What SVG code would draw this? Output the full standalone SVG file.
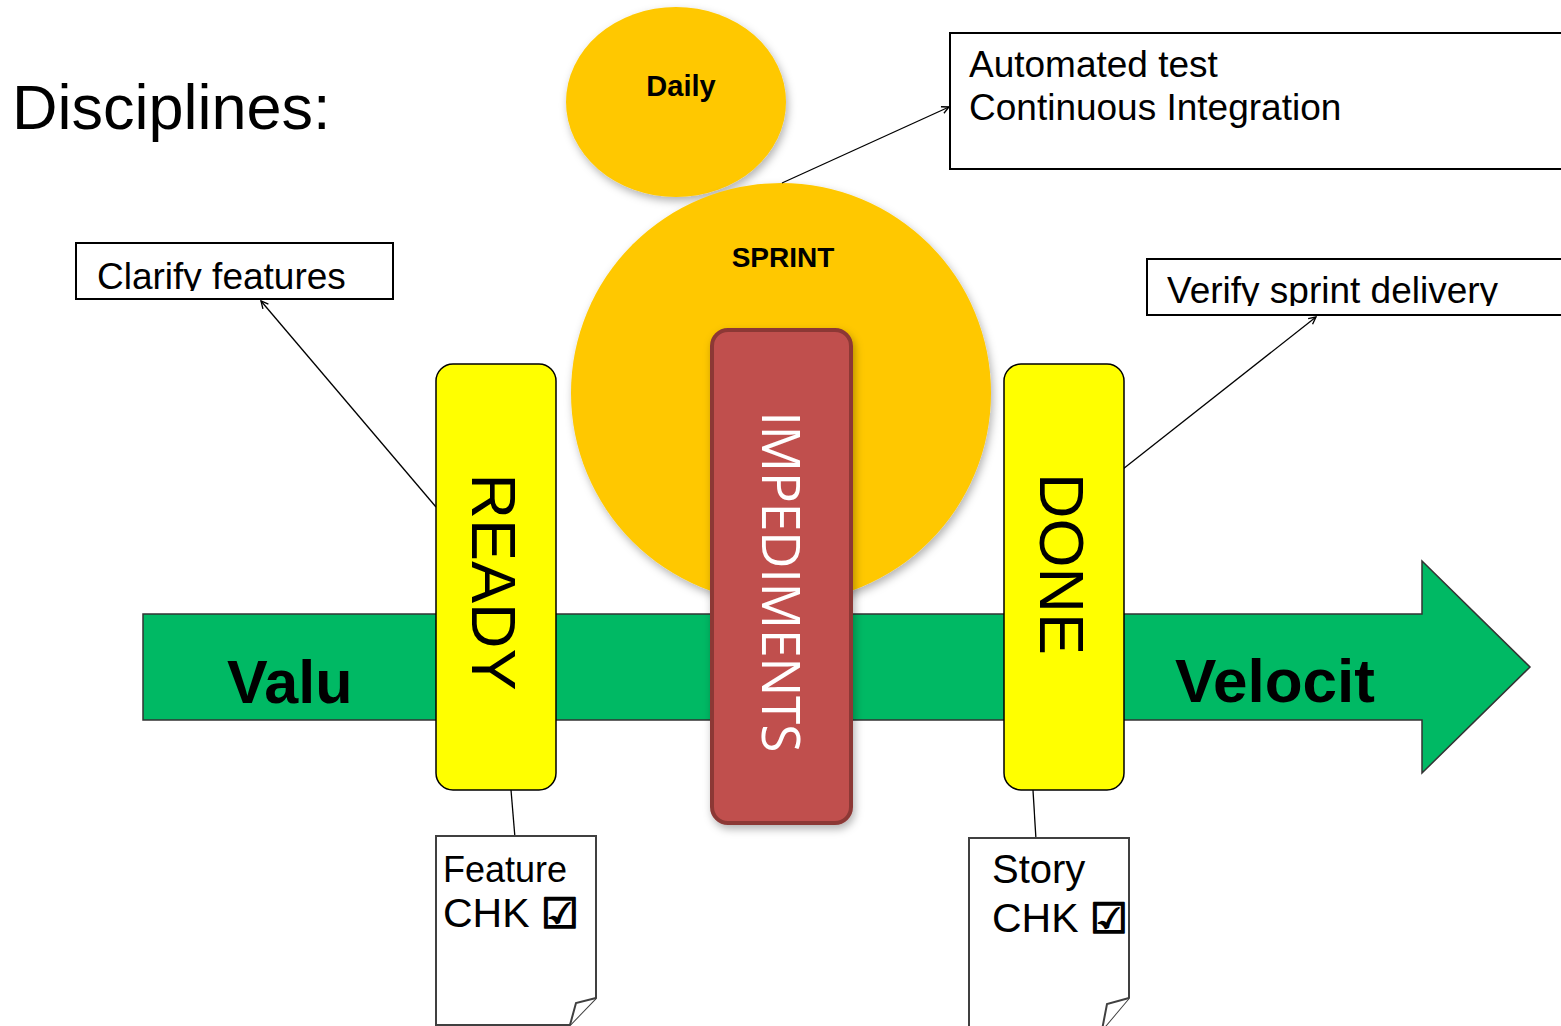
<svg xmlns="http://www.w3.org/2000/svg" width="1561" height="1026" viewBox="0 0 1561 1026">
<style>
  .lbl{font-family:"Liberation Sans",Arial,sans-serif;fill:#000}
  .bold{font-weight:bold}
  .callout{fill:#fff;stroke:#000;stroke-width:2}
  .gate{fill:#FFFF00;stroke:#000;stroke-width:1.5}
  .conn{stroke:#000;stroke-width:1.3;fill:none}
  .doc{fill:#fff;stroke:#404040;stroke-width:2;stroke-linejoin:miter}
  .orange{fill:#FFC800}
  .chk{font-family:"DejaVu Sans",sans-serif;font-weight:bold;stroke:#000;stroke-width:1.6}
</style>
<defs>
  <filter id="sh" x="-20%" y="-20%" width="140%" height="140%">
    <feDropShadow dx="2" dy="4" stdDeviation="4" flood-color="#000" flood-opacity="0.3"/>
  </filter>
  <marker id="ah" viewBox="0 0 10 10" refX="9" refY="5" markerWidth="9" markerHeight="9" markerUnits="userSpaceOnUse" orient="auto">
    <path d="M1,1 L9,5 L1,9" fill="none" stroke="#000" stroke-width="1.5"/>
  </marker>
  <clipPath id="clipClarify"><rect x="76" y="243" width="317" height="48"/></clipPath>
  <clipPath id="clipVerify"><rect x="1147" y="259" width="414" height="47"/></clipPath>
</defs>
<rect x="0" y="0" width="1561" height="1026" fill="#fff"/>

<g id="title">
  <text class="lbl" x="12" y="129" font-size="63">Disciplines:</text>
</g>

<g id="flow-arrow">
  <polygon points="143,614 1422,614 1422,561 1530,667 1422,773 1422,720 143,720" fill="#00B964" stroke="#333" stroke-width="1.5"/>
  <text class="lbl bold" x="227" y="703" font-size="61">Valu</text>
  <text class="lbl bold" x="1175" y="702" font-size="62">Velocit</text>
</g>

<g id="daily">
  <ellipse class="orange" cx="676" cy="102" rx="110" ry="95" filter="url(#sh)"/>
  <text class="lbl bold" x="681" y="96" font-size="29" text-anchor="middle">Daily</text>
</g>

<g id="sprint">
  <circle class="orange" cx="781" cy="393" r="210" filter="url(#sh)"/>
  <text class="lbl bold" x="783" y="267" font-size="28" text-anchor="middle">SPRINT</text>
</g>

<g id="connectors">
  <line class="conn" x1="782" y1="183" x2="949" y2="107" marker-end="url(#ah)"/>
  <line class="conn" x1="436" y1="507" x2="261" y2="301" marker-end="url(#ah)"/>
  <line class="conn" x1="1123" y1="469" x2="1316" y2="317" marker-end="url(#ah)"/>
  <line class="conn" x1="511" y1="790" x2="515" y2="838"/>
  <line class="conn" x1="1033" y1="790" x2="1036" y2="840"/>
</g>

<g id="ready">
  <rect class="gate" x="436" y="364" width="120" height="426" rx="17"/>
  <text class="lbl" transform="translate(472,582) rotate(90)" font-size="63" text-anchor="middle">READY</text>
</g>

<g id="impediments">
  <rect x="712" y="330" width="139" height="493" rx="16" fill="#C0504D" stroke="#8C3836" stroke-width="4" filter="url(#sh)"/>
  <text transform="translate(762,582) rotate(90)" font-family="'Open Sans','Noto Sans',sans-serif" font-size="53" fill="#fff" text-anchor="middle" textLength="341" lengthAdjust="spacingAndGlyphs">IMPEDIMENTS</text>
</g>

<g id="done">
  <rect class="gate" x="1004" y="364" width="120" height="426" rx="17"/>
  <text class="lbl" transform="translate(1040,564) rotate(90)" font-size="63" text-anchor="middle">DONE</text>
</g>

<g id="automated-test">
  <rect class="callout" x="950" y="33" width="620" height="136"/>
  <text class="lbl" x="969" y="77" font-size="37">Automated test</text>
  <text class="lbl" x="969" y="120" font-size="37">Continuous Integration</text>
</g>

<g id="clarify-features">
  <rect class="callout" x="76" y="243" width="317" height="56"/>
  <text class="lbl" x="97" y="289" font-size="37" clip-path="url(#clipClarify)">Clarify features</text>
</g>

<g id="verify-sprint">
  <rect class="callout" x="1147" y="259" width="420" height="56"/>
  <text class="lbl" x="1167" y="303" font-size="37" clip-path="url(#clipVerify)">Verify sprint delivery</text>
</g>

<g id="feature-chk">
  <path class="doc" d="M436,836 L596,836 L596,998 L570,1025 L436,1025 Z"/>
  <path class="doc" d="M596,998 L576,1003 L570,1025" stroke-width="1.5"/>
  <text class="lbl" x="443" y="882" font-size="36">Feature</text>
  <text class="lbl" x="443" y="927" font-size="41">CHK <tspan class="chk" font-size="42" dy="1">☑</tspan></text>
</g>

<g id="story-chk">
  <path class="doc" d="M969,838 L1129,838 L1129,998 L1102,1030 L969,1030 Z"/>
  <path class="doc" d="M1129,998 L1107,1004 L1102,1030" stroke-width="1.5"/>
  <text class="lbl" x="992" y="883" font-size="40">Story</text>
  <text class="lbl" x="992" y="932" font-size="41">CHK <tspan class="chk" font-size="42" dy="1">☑</tspan></text>
</g>
</svg>
